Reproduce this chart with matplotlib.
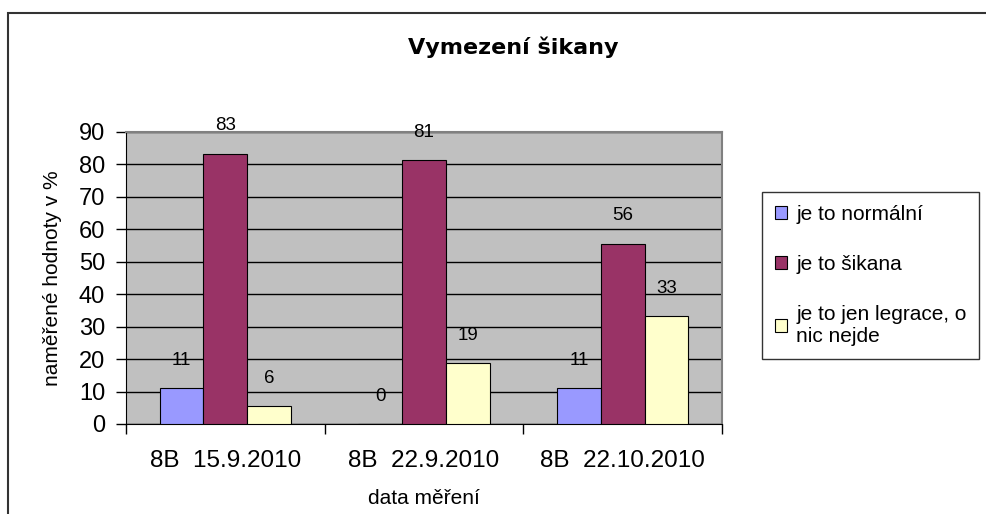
import numpy as np
import matplotlib.pyplot as plt
from matplotlib.patches import Rectangle

plt.rcParams['font.family'] = ['Liberation Sans', 'DejaVu Sans']

# data
categories = ['8B  15.9.2010', '8B  22.9.2010', '8B  22.10.2010']
series_names = ['je to normální', 'je to šikana', 'je to jen legrace, o\nnic nejde']
normalni = [11.1, 0, 11.1]
sikana = [83.3, 81.3, 55.6]
legrace = [5.6, 18.8, 33.3]
colors = ['#9999FF', '#993366', '#FFFFCC']

fig = plt.figure(figsize=(9.86, 5.14), dpi=100)
ax = fig.add_axes([126 / 986, 1 - 424 / 514, (722 - 126) / 986, (424 - 132) / 514])
ax.set_facecolor('#C0C0C0')

x = np.arange(len(categories))
w = 0.22
for i, (vals, name, col) in enumerate(zip([normalni, sikana, legrace], series_names, colors)):
    pos = x + (i - 1) * w
    ax.bar(pos, vals, width=w, color=col, edgecolor='black', linewidth=0.8,
           label=name, zorder=3)
    for px, v in zip(pos, vals):
        ax.annotate(f'{v:.0f}', (px, v), xytext=(0, 20), textcoords='offset points',
                    ha='center', va='center', fontsize=13.5, zorder=4)

ax.set_xlim(-0.5, 2.5)
ax.set_ylim(0, 90)
ax.set_yticks(range(0, 91, 10))
ax.yaxis.grid(True, color='black', linewidth=1, zorder=0)
ax.set_axisbelow(True)
ax.tick_params(axis='y', labelsize=17, length=7, width=1, direction='out', pad=8)

# category ticks sit between groups, labels in the middle
ax.set_xticks([-0.5, 0.5, 1.5, 2.5])
ax.set_xticklabels([])
ax.set_xticks(x, minor=True)
ax.set_xticklabels(categories, minor=True, fontsize=17.5)
ax.tick_params(axis='x', which='major', length=7, width=1, direction='out')
ax.tick_params(axis='x', which='minor', length=0, pad=19)

for s in ['top', 'right']:
    ax.spines[s].set_color('#808080')
    ax.spines[s].set_linewidth(1.5)
ax.spines['left'].set_color('black')
ax.spines['bottom'].set_color('black')

ax.set_xlabel('data měření', fontsize=15, labelpad=12)
ax.set_ylabel('naměřené hodnoty v %', fontsize=15, labelpad=12)

fig.text(513 / 986, 1 - 47 / 514, 'Vymezení šikany', ha='center', va='center',
         fontsize=16, fontweight='bold', family='DejaVu Sans')

leg = ax.legend(loc='upper left', bbox_to_anchor=(762 / 986, 1 - 192 / 514),
                bbox_transform=fig.transFigure, frameon=True, fancybox=False,
                edgecolor='black', fontsize=15, handlelength=0.6, handleheight=0.6,
                handletextpad=0.45, labelspacing=1.5, borderpad=0.6, borderaxespad=0)
leg.get_frame().set_linewidth(1)

# outer chart border
fig.patches.append(Rectangle((8 / 986, -0.1), 1.1, 1 - 13 / 514 + 0.1,
                             transform=fig.transFigure, fill=False,
                             edgecolor='#333333', linewidth=1.5))

fig.savefig('out.png', dpi=100)
